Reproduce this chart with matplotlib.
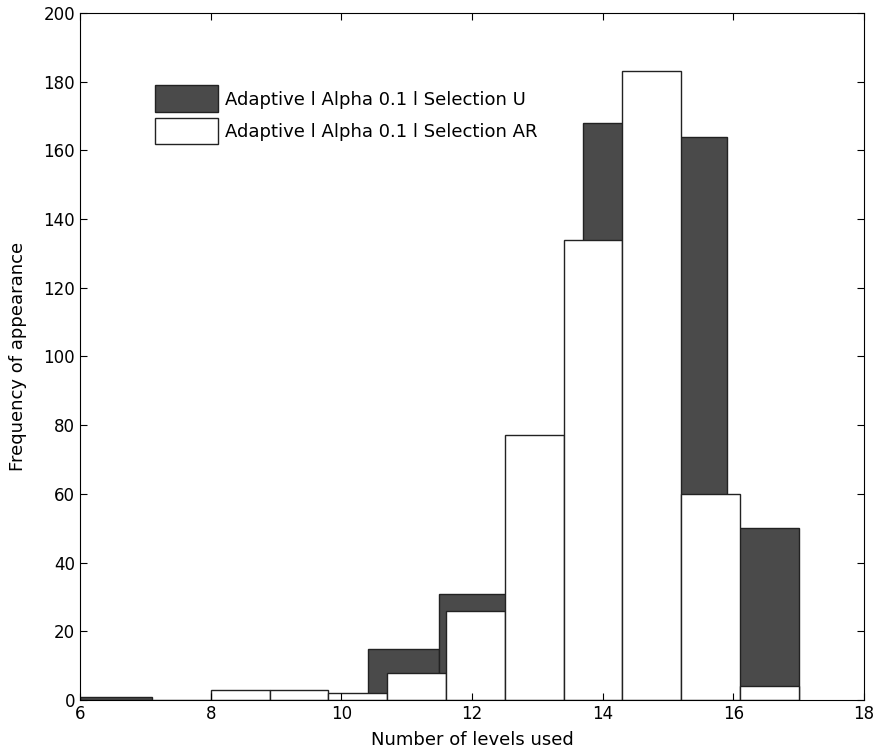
import numpy as np
import matplotlib
matplotlib.use("Agg")
import matplotlib.pyplot as plt

# histogram bins
edges_u = np.linspace(6, 17, 11)
counts_u = [1, 0, 0, 0, 15, 31, 71, 168, 164, 50]
edges_ar = np.linspace(8, 17, 11)
counts_ar = [3, 3, 2, 8, 26, 77, 134, 183, 60, 4]

label_u = "Adaptive l Alpha 0.1 l Selection U"
label_ar = "Adaptive l Alpha 0.1 l Selection AR"

plt.rcParams['font.family'] = ['DejaVu Sans']
plt.rcParams['font.size'] = 12

fig = plt.figure(figsize=(8.8, 7.56), dpi=100)
ax = fig.add_axes([0.091, 0.074, 0.891, 0.909])

ax.bar(edges_u[:-1], counts_u, width=np.diff(edges_u), align='edge',
       color='#4a4a4a', edgecolor='#222222', linewidth=1, label=label_u)
ax.bar(edges_ar[:-1], counts_ar, width=np.diff(edges_ar), align='edge',
       color='white', edgecolor='#222222', linewidth=1, label=label_ar)

ax.set_xlim(6, 18)
ax.set_ylim(0, 200)
ax.set_xticks(np.arange(6, 19, 2))
ax.set_yticks(np.arange(0, 201, 20))
ax.tick_params(direction='in', top=True, right=True, length=5, labelsize=12)
ax.set_xlabel("Number of levels used", fontsize=13, labelpad=6)
ax.set_ylabel("Frequency of appearance", fontsize=13, labelpad=12)

ax.legend(loc='upper left', bbox_to_anchor=(0.075, 0.918), frameon=False,
          handlelength=3.5, handleheight=1.9, handletextpad=0.35,
          labelspacing=0.3, fontsize=13)

fig.savefig("out.png", dpi=100)
